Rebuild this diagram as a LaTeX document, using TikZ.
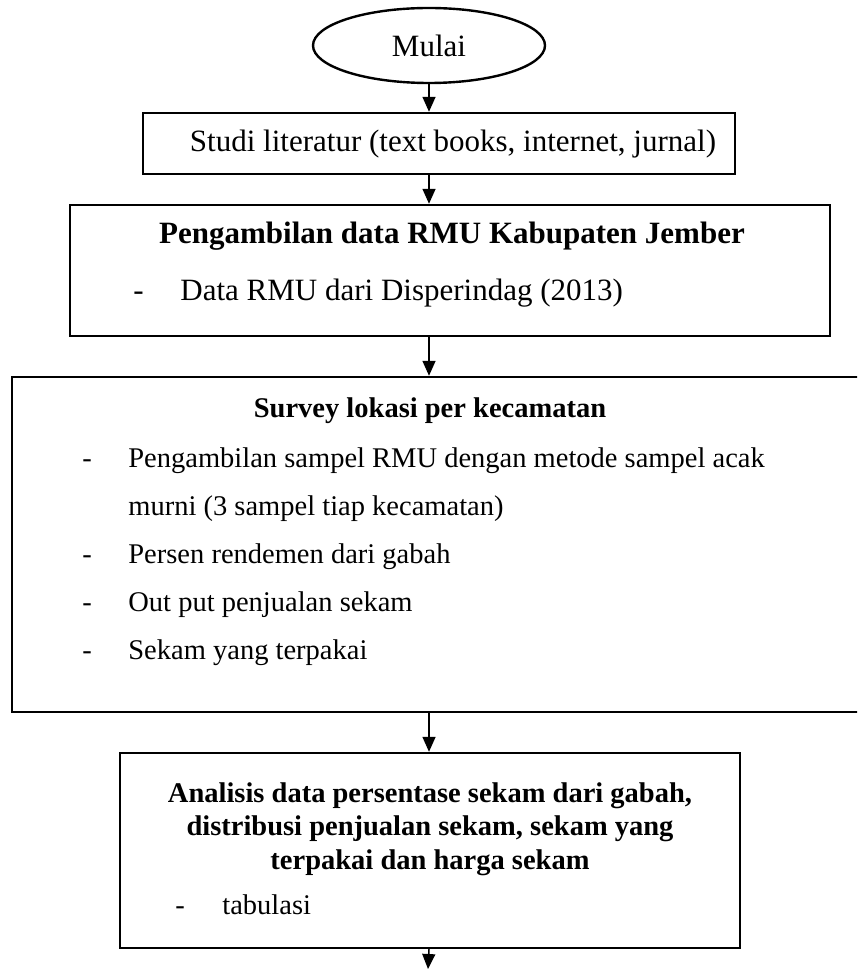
\documentclass[tikz,border=0pt]{standalone}
\usepackage{fontspec}
\setmainfont{Liberation Serif}
\usetikzlibrary{arrows.meta,shapes.geometric,positioning}

\begin{document}
\begin{tikzpicture}[x=0.5pt,y=-0.5pt,
  box/.style={draw,line width=1.2pt,inner sep=0pt},
  txt/.style={inner sep=0pt,font=\fontsize{14.25}{16.5}\selectfont},
  big/.style={inner sep=0pt,font=\fontsize{15.5}{18}\selectfont},
  hd/.style={inner sep=0pt,align=center,font=\fontsize{14.25}{16.75}\selectfont\bfseries},
  flow/.style={-{Triangle[length=7.5pt,width=6.5pt]},line width=0.75pt}]
  \useasboundingbox (0,0) rectangle (857,972);
  \clip (0,0) rectangle (857,972);
  % start
  \node[box,ellipse,minimum width=116pt,minimum height=37.5pt,big] (mulai) at (429,45.5) {Mulai};
  % literature
  \node[box,minimum width=296pt,minimum height=30.5pt] (studi) at (439,143.5) {};
  \node[big] (tstudi) at (453,144) {Studi literatur (text books, internet, jurnal)};
  % RMU data
  \node[box,minimum width=380pt,minimum height=65.5pt] (ambil) at (450,270.5) {};
  \node[big,anchor=base,font=\fontsize{15.5}{18}\selectfont\bfseries] (tambil) at (452,244) {Pengambilan data RMU Kabupaten Jember};
  \node[big,anchor=base west] (dambil) at (133,301) {-};
  \node[big,anchor=base west] (iambil) at (180,301) {Data RMU dari Disperindag (2013)};
  % survey
  \node[box,minimum width=429pt,minimum height=167.5pt] (survey) at (441,544.5) {};
  \node[hd,anchor=base] (tsurvey) at (430,417) {Survey lokasi per kecamatan};
  \node[txt,anchor=base west] (dsa) at (82,467) {-};
  \node[txt,anchor=base west] (isa) at (128,467) {Pengambilan sampel RMU dengan metode sampel acak};
  \node[txt,anchor=base west] (isb) at (128,515) {murni (3 sampel tiap kecamatan)};
  \node[txt,anchor=base west] (dsc) at (82,563) {-};
  \node[txt,anchor=base west] (isc) at (128,563) {Persen rendemen dari gabah};
  \node[txt,anchor=base west] (dsd) at (82,611) {-};
  \node[txt,anchor=base west] (isd) at (128,611) {Out put penjualan sekam};
  \node[txt,anchor=base west] (dse) at (82,659) {-};
  \node[txt,anchor=base west] (ise) at (128,659) {Sekam yang terpakai};
  % analysis
  \node[box,minimum width=310pt,minimum height=97.5pt] (analisis) at (430,850.5) {};
  \node[hd] (tanalisis) at (430,829) {Analisis data persentase sekam dari gabah,\\
    distribusi penjualan sekam, sekam yang\\ terpakai dan harga sekam};
  \node[txt,anchor=base west] (danalisis) at (175,914) {-};
  \node[txt,anchor=base west] (ianalisis) at (222,914) {tabulasi};
  % arrows
  \coordinate (akhir) at (428,969);
  \draw[flow] (mulai.south) -- (mulai.south |- studi.north);
  \draw[flow] (studi.south -| mulai.south) -- (ambil.north -| mulai.south);
  \draw[flow] (ambil.south -| mulai.south) -- (survey.north -| mulai.south);
  \draw[flow] (survey.south -| mulai.south) -- (analisis.north -| mulai.south);
  \draw[flow] (analisis.south -| mulai.south) -- (akhir);
\end{tikzpicture}
\end{document}
